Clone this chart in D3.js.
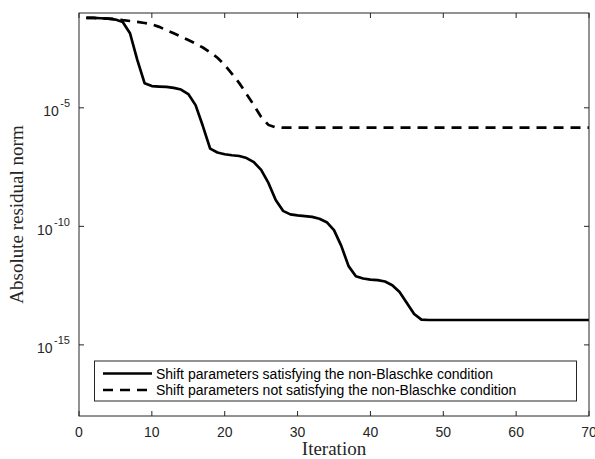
<!DOCTYPE html>
<html><head><meta charset="utf-8">
<script src="https://cdn.jsdelivr.net/npm/d3@7"></script>
<style>body{margin:0;background:#fff}svg{display:block}</style>
</head><body>
<svg id="c" width="595" height="459"></svg>
<script>
const iterations = d3.range(1, 71);
const solidValues = [
 6.2e-2,6.2e-2,6.0e-2,5.8e-2,5.3e-2,4.2e-2,1.4e-2,1.05e-3,1.1e-4,8.3e-5,
 7.9e-5,7.6e-5,6.9e-5,5.9e-5,3.8e-5,1.3e-5,1.7e-6,1.9e-7,1.3e-7,1.1e-7,
 1.0e-7,9.3e-8,7.6e-8,5.1e-8,2.4e-8,6.8e-9,1.3e-9,4.5e-10,3.2e-10,2.9e-10,
 2.7e-10,2.5e-10,2.1e-10,1.5e-10,6.9e-11,1.5e-11,2.1e-12,7.9e-13,6.3e-13,5.7e-13,
 5.4e-13,4.7e-13,3.3e-13,1.7e-13,5.8e-14,2.0e-14,1.17e-14,1.12e-14,1.12e-14,1.12e-14,
 1.12e-14,1.12e-14,1.12e-14,1.12e-14,1.12e-14,1.12e-14,1.12e-14,1.12e-14,1.12e-14,1.12e-14,
 1.12e-14,1.12e-14,1.12e-14,1.12e-14,1.12e-14,1.12e-14,1.12e-14,1.12e-14,1.12e-14,1.12e-14
];
const dashedValues = [
 6.2e-2,6.2e-2,6.0e-2,5.8e-2,5.6e-2,5.0e-2,4.6e-2,4.2e-2,3.8e-2,3.3e-2,
 2.6e-2,1.9e-2,1.4e-2,1.0e-2,7.3e-3,5.1e-3,3.5e-3,2.2e-3,1.3e-3,6.4e-4,
 2.7e-4,1.1e-4,3.8e-5,1.3e-5,4.1e-6,1.9e-6,1.5e-6,1.45e-6,1.45e-6,1.45e-6,
 1.45e-6,1.45e-6,1.45e-6,1.45e-6,1.45e-6,1.45e-6,1.45e-6,1.45e-6,1.45e-6,1.45e-6,
 1.45e-6,1.45e-6,1.45e-6,1.45e-6,1.45e-6,1.45e-6,1.45e-6,1.45e-6,1.45e-6,1.45e-6,
 1.45e-6,1.45e-6,1.45e-6,1.45e-6,1.45e-6,1.45e-6,1.45e-6,1.45e-6,1.45e-6,1.45e-6,
 1.45e-6,1.45e-6,1.45e-6,1.45e-6,1.45e-6,1.45e-6,1.45e-6,1.45e-6,1.45e-6,1.45e-6
];
const xTicks = [0,10,20,30,40,50,60,70];
const yTickExps = [-5,-10,-15];
const seriesNames = [
 "Shift parameters satisfying the non-Blaschke condition",
 "Shift parameters not satisfying the non-Blaschke condition"
];
const xLabel = "Iteration";
const yLabel = "Absolute residual norm";

const L=79, R=589, T=13, B=416;
const axisColor = "#262626";
const sans = "Liberation Sans, Arial, Helvetica, sans-serif";
const serif = "Liberation Serif, Times New Roman, serif";
const svg = d3.select("#c");
const x = d3.scaleLinear().domain([0,70]).range([L,R]);
const y = d3.scaleLog().domain([1e-18,1e-1]).range([B,T]);

// lines
const line = d3.line().x((d,i)=>x(iterations[i])).y(d=>y(d));
svg.append("path").attr("d", line(solidValues)).attr("fill","none")
  .attr("stroke","#000").attr("stroke-width",2.7).attr("stroke-linejoin","round");
svg.append("path").attr("d", line(dashedValues)).attr("fill","none")
  .attr("stroke","#000").attr("stroke-width",2.7).attr("stroke-dasharray","10,7");

// axes box
svg.append("rect").attr("x",L).attr("y",T).attr("width",R-L).attr("height",B-T)
  .attr("fill","none").attr("stroke",axisColor).attr("stroke-width",1);

const tl = 5;
xTicks.forEach(t=>{
  svg.append("line").attr("x1",x(t)).attr("x2",x(t)).attr("y1",B).attr("y2",B-tl).attr("stroke",axisColor);
  svg.append("line").attr("x1",x(t)).attr("x2",x(t)).attr("y1",T).attr("y2",T+tl).attr("stroke",axisColor);
  svg.append("text").attr("x",x(t)).attr("y",B+21).attr("text-anchor","middle")
    .attr("font-family",sans).attr("font-size",14).attr("fill",axisColor).text(t);
});
yTickExps.forEach(e=>{
  const v = Math.pow(10,e);
  svg.append("line").attr("x1",L).attr("x2",L+tl).attr("y1",y(v)).attr("y2",y(v)).attr("stroke",axisColor);
  svg.append("line").attr("x1",R).attr("x2",R-tl).attr("y1",y(v)).attr("y2",y(v)).attr("stroke",axisColor);
  const tx = svg.append("text").attr("x",L-9).attr("y",y(v)+8.5).attr("text-anchor","end")
    .attr("font-family",sans).attr("font-size",14).attr("fill",axisColor);
  tx.append("tspan").text("10");
  tx.append("tspan").attr("font-size",11).attr("dx",1.5).attr("dy",-9).text("-"+Math.abs(e));
});

// axis labels
svg.append("text").attr("x",(L+R)/2).attr("y",455).attr("text-anchor","middle")
  .attr("font-family",serif).attr("font-size",19).attr("fill",axisColor).text(xLabel);
svg.append("text").attr("transform",`translate(23,${(T+B)/2}) rotate(-90)`).attr("text-anchor","middle")
  .attr("font-family",serif).attr("font-size",19).attr("fill",axisColor).text(yLabel);

// legend
const lg = svg.append("g");
lg.append("rect").attr("x",94.5).attr("y",361).attr("width",482).attr("height",40)
  .attr("fill","#fff").attr("stroke",axisColor).attr("stroke-width",1);
const rows = [{y:373.5,dash:null},{y:390,dash:"10,7"}];
rows.forEach((r,i)=>{
  lg.append("line").attr("x1",103).attr("x2",152).attr("y1",r.y).attr("y2",r.y)
    .attr("stroke","#000").attr("stroke-width",2.7).attr("stroke-dasharray",r.dash);
  lg.append("text").attr("x",156).attr("y",r.y+5)
    .attr("font-family",sans).attr("font-size",14).attr("fill","#000").text(seriesNames[i]);
});
</script>
</body></html>
